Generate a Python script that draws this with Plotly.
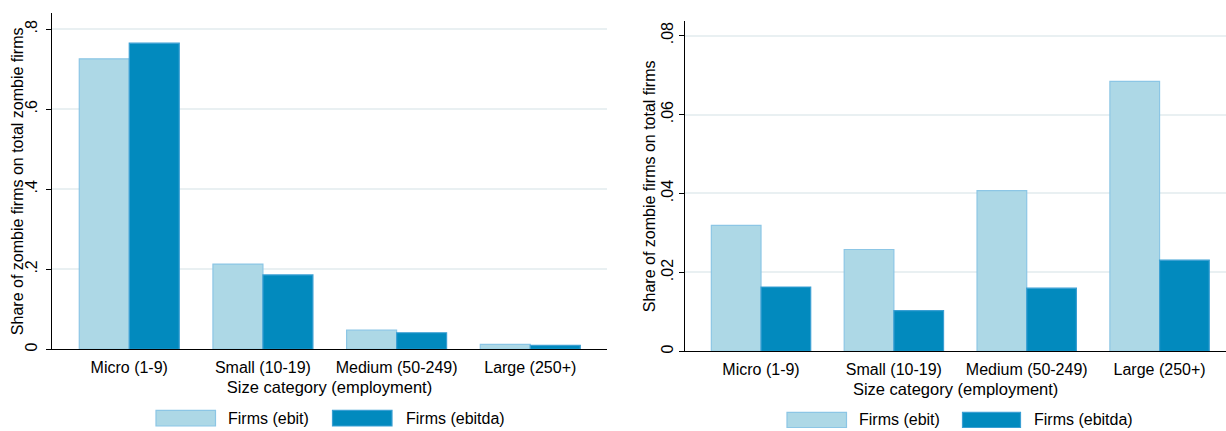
import plotly.graph_objects as go

# ---- data ----
categories = ["Micro (1-9)", "Small (10-19)", "Medium (50-249)", "Large (250+)"]
series_names = ["Firms (ebit)", "Firms (ebitda)"]

# Left panel: share of zombie firms on total zombie firms
left_ebit = [0.726, 0.213, 0.048, 0.0125]
left_ebitda = [0.765, 0.186, 0.0415, 0.010]

# Right panel: share of zombie firms on total firms
right_ebit = [0.0319, 0.0258, 0.0407, 0.0684]
right_ebitda = [0.0163, 0.0103, 0.0160, 0.0231]

left_ticks = [0, 0.2, 0.4, 0.6, 0.8]
left_ticktext = ["0", ".2", ".4", ".6", ".8"]
right_ticks = [0, 0.02, 0.04, 0.06, 0.08]
right_ticktext = ["0", ".02", ".04", ".06", ".08"]

left_ytitle = "Share of zombie firms on total zombie firms"
right_ytitle = "Share of zombie firms on total firms"
xtitle = "Size category (employment)"

# ---- styles ----
W, H = 1226, 431
FONT = "Liberation Sans, Arial, sans-serif"
C_EBIT, C_EBIT_LINE = "#ADD8E6", "#8CC6E5"
C_EBITDA, C_EBITDA_LINE = "#028ABE", "#3A9FD3"
GRID = "#E9F0F2"


def px_x(p):
    return p / W


def px_y(p):
    return 1 - p / H


fig = go.Figure()

for vals_ebit, vals_ebitda, xa, ya in [
    (left_ebit, left_ebitda, "x", "y"),
    (right_ebit, right_ebitda, "x2", "y2"),
]:
    fig.add_trace(go.Bar(x=categories, y=vals_ebit, name=series_names[0],
                         marker=dict(color=C_EBIT, line=dict(color=C_EBIT_LINE, width=1.2)),
                         xaxis=xa, yaxis=ya, showlegend=False))
    fig.add_trace(go.Bar(x=categories, y=vals_ebitda, name=series_names[1],
                         marker=dict(color=C_EBITDA, line=dict(color=C_EBITDA_LINE, width=1.2)),
                         xaxis=xa, yaxis=ya, showlegend=False))

xcommon = dict(type="category", showgrid=False, zeroline=False, showline=True,
               linecolor="black", linewidth=1.3, ticks="", ticklabelstandoff=3,
               tickfont=dict(family=FONT, size=16, color="black"),
               title=dict(text=xtitle,
                          font=dict(family=FONT, size=16.5, color="black"), standoff=6))
ycommon = dict(showgrid=True, gridcolor=GRID, gridwidth=1.6, zeroline=False,
               showline=True, linecolor="black", linewidth=1.3,
               ticks="outside", ticklen=5, tickwidth=1.2, tickcolor="black",
               tickangle=-90, tickfont=dict(family=FONT, size=16, color="black"))

fig.update_layout(
    width=W, height=H,
    margin=dict(l=0, r=0, t=0, b=0),
    paper_bgcolor="white", plot_bgcolor="white",
    barmode="group", bargap=0.252, bargroupgap=0,
    showlegend=False,
    font=dict(family=FONT, color="black"),
    xaxis=dict(xcommon, domain=[px_x(52), px_x(607)], range=[-0.578, 3.574], anchor="y"),
    yaxis=dict(ycommon, domain=[px_y(351), px_y(13.3)], range=[0, 0.8398],
               tickvals=left_ticks, ticktext=left_ticktext, anchor="x",
               ticklabelstandoff=2),
    xaxis2=dict(xcommon, domain=[px_x(685.3), 1.0], range=[-0.57, 3.50], anchor="y2"),
    yaxis2=dict(ycommon, domain=[px_y(353), px_y(20.7)], range=[0, 0.08379],
                tickvals=right_ticks, ticktext=right_ticktext, anchor="x2"),
)

# ---- y-axis titles ----
for text, cx, cy in [(left_ytitle, 17, 182), (right_ytitle, 649, 187)]:
    fig.add_annotation(xref="paper", yref="paper", x=px_x(cx), y=px_y(cy), text=text,
                       textangle=-90, showarrow=False, xanchor="center", yanchor="middle",
                       font=dict(family=FONT, size=16, color="black"))

# ---- legends (one under each panel, wide Stata-style swatches) ----
legend_specs = [
    # (swatch x0, swatch x1, text x, y top, y bottom) in pixels
    [(156, 215.5, 225.5, 412.3, 428), (332.5, 392, 403.5, 412.3, 428)],
    [(787, 846.5, 857, 414.3, 429.5), (962.5, 1020.5, 1031.5, 414.3, 429.5)],
]
fills = [(C_EBIT, C_EBIT_LINE), (C_EBITDA, C_EBITDA_LINE)]
for panel in legend_specs:
    for (x0, x1, tx, yt, yb), (fc, lc), name in zip(panel, fills, series_names):
        fig.add_shape(type="rect", xref="paper", yref="paper",
                      x0=px_x(x0), x1=px_x(x1), y0=px_y(yb), y1=px_y(yt),
                      fillcolor=fc, line=dict(color=lc, width=1.2))
        fig.add_annotation(xref="paper", yref="paper", x=px_x(tx), y=px_y((yt + yb) / 2),
                           text=name, showarrow=False, xanchor="left", yanchor="middle",
                           font=dict(family=FONT, size=16, color="black"))

fig.write_html(
    "out.html",
    config={"displayModeBar": False},
    post_script="document.body.style.margin='0';document.body.style.overflow='hidden';",
)
